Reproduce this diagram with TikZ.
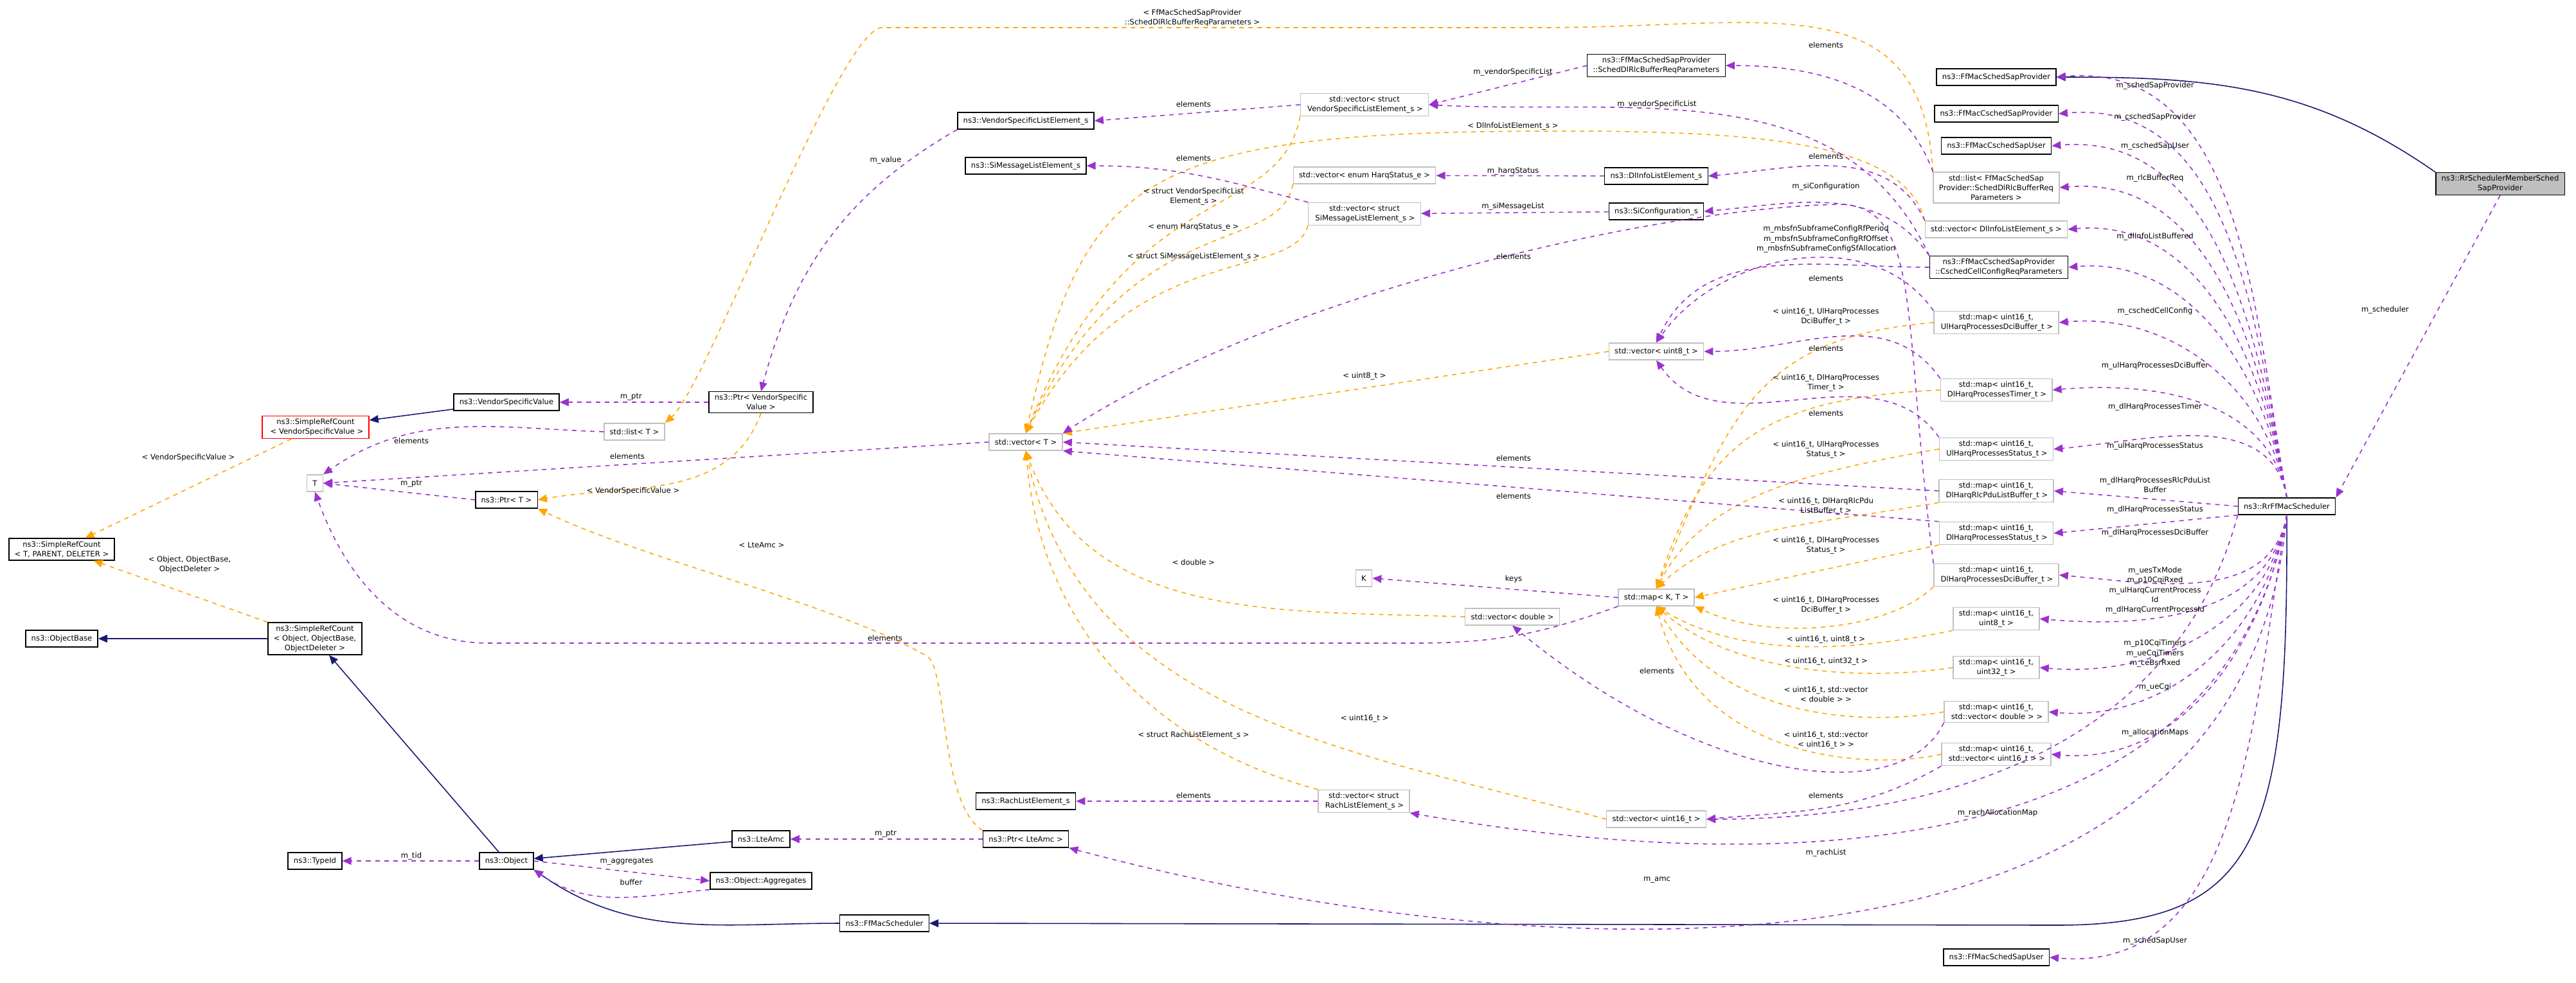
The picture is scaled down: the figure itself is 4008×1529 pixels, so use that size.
\documentclass[tikz,border=0pt]{standalone}
\usepackage{fontspec}
\setmainfont{DejaVu Sans}
\usetikzlibrary{arrows.meta}
\definecolor{inhblue}{HTML}{191970}
\definecolor{usepurple}{HTML}{9A32CD}
\definecolor{tmplorange}{HTML}{FFA500}
\definecolor{extgray}{HTML}{BFBFBF}
\begin{document}
\begin{tikzpicture}[
    x=0.01cm, y=-0.01cm,
    every node/.style={font=\fontsize{3.3}{4.3}\selectfont, align=center},
    box/.style={draw, line width=0.4pt, inner xsep=2.5pt, inner ysep=1.2pt, minimum height=0.26cm},
    cls/.style={box, draw=black},
    ext/.style={box, draw=extgray},
    hl/.style={box, draw=black, fill=extgray},
    bad/.style={box, draw=red},
    lbl/.style={inner sep=0pt},
    inh/.style={draw=inhblue, line width=0.45pt, -{Triangle[length=4pt,width=3.4pt]}},
    use/.style={draw=usepurple, line width=0.45pt, dash pattern=on 2pt off 2pt, -{Triangle[length=4pt,width=3.4pt]}},
    tmpl/.style={draw=tmplorange, line width=0.45pt, dash pattern=on 2pt off 2pt, -{Triangle[length=4pt,width=3.4pt]}}
]
\useasboundingbox (0,0) rectangle (4008,1529);

% left part
\node[bad] (srcvsv) at (491,665) {ns3::SimpleRefCount\\\,\,< VendorSpecificValue >};
\node[cls] (vsv) at (788,626) {ns3::VendorSpecificValue};
\node[ext] (stdlist) at (987,672) {std::list< T >};
\node[ext] (tT) at (490,752) {T};
\node[cls] (ptrT) at (788,778) {ns3::Ptr< T >};
\node[cls] (srcTPD) at (96,855) {ns3::SimpleRefCount\\< T, PARENT, DELETER >};
\node[cls] (objbase) at (96,994) {ns3::ObjectBase};
\node[cls] (srcobj) at (490,994) {ns3::SimpleRefCount\\< Object, ObjectBase,\\ObjectDeleter >};
\node[cls] (typeid) at (490,1340) {ns3::TypeId};
\node[cls] (object) at (788,1340) {ns3::Object};

% middle part
\node[cls] (vsle) at (1596,188) {ns3::VendorSpecificListElement\_s};
\node[cls] (simle) at (1596,258) {ns3::SiMessageListElement\_s};
\node[cls] (ptrvsv) at (1184,626) {ns3::Ptr< VendorSpecific\\Value >};
\node[ext] (vecT) at (1596,688) {std::vector< T >};
\node[cls] (lteamc) at (1184,1306) {ns3::LteAmc};
\node[cls] (ptramc) at (1596,1306) {ns3::Ptr< LteAmc >};
\node[cls] (aggr) at (1184,1371) {ns3::Object::Aggregates};
\node[cls] (ffsched) at (1376,1437) {ns3::FfMacScheduler};
\node[cls] (rachle) at (1596,1247) {ns3::RachListElement\_s};
\node[cls] (dlrlcparams) at (2577,102) {ns3::FfMacSchedSapProvider\\::SchedDlRlcBufferReqParameters};
\node[ext] (vecvsle) at (2123,163) {std::vector< struct\\\,VendorSpecificListElement\_s >};
\node[ext] (vecharq) at (2123,273) {std::vector< enum HarqStatus\_e >};
\node[ext] (vecsimle) at (2123,333) {std::vector< struct\\\,SiMessageListElement\_s >};
\node[cls] (dlinfole) at (2577,274) {ns3::DlInfoListElement\_s};
\node[cls] (siconf) at (2577,329) {ns3::SiConfiguration\_s};
\node[ext] (vecu8) at (2577,547) {std::vector< uint8\_t >};
\node[ext] (kK) at (2122,900) {K};
\node[ext] (vecdbl) at (2353,960) {std::vector< double >};
\node[ext] (mapKT) at (2577,930) {std::map< K, T >};
\node[ext] (vecrach) at (2122,1247) {std::vector< struct\\\,RachListElement\_s >};
\node[ext] (vecu16) at (2577,1275) {std::vector< uint16\_t >};

% right column
\node[cls] (sapprov) at (3106,120) {ns3::FfMacSchedSapProvider};
\node[cls] (csapprov) at (3106,177) {ns3::FfMacCschedSapProvider};
\node[cls] (csapuser) at (3106,227) {ns3::FfMacCschedSapUser};
\node[ext] (listrlc) at (3106,292) {std::list< FfMacSchedSap\\Provider::SchedDlRlcBufferReq\\Parameters >};
\node[ext] (vecdlinfo) at (3106,357) {std::vector< DlInfoListElement\_s >};
\node[cls] (cellcfg) at (3110,416) {ns3::FfMacCschedSapProvider\\::CschedCellConfigReqParameters};
\node[ext] (mUlDci) at (3106,502) {std::map< uint16\_t,\\\,UlHarqProcessesDciBuffer\_t >};
\node[ext] (mDlTimer) at (3106,607) {std::map< uint16\_t,\\\,DlHarqProcessesTimer\_t >};
\node[ext] (mUlStat) at (3106,699) {std::map< uint16\_t,\\\,UlHarqProcessesStatus\_t >};
\node[ext] (mDlRlc) at (3106,764) {std::map< uint16\_t,\\\,DlHarqRlcPduListBuffer\_t >};
\node[ext] (mDlStat) at (3106,830) {std::map< uint16\_t,\\\,DlHarqProcessesStatus\_t >};
\node[ext] (mDlDci) at (3106,895) {std::map< uint16\_t,\\\,DlHarqProcessesDciBuffer\_t >};
\node[ext] (mU8) at (3106,963) {std::map< uint16\_t,\\uint8\_t >};
\node[ext] (mU32) at (3106,1039) {std::map< uint16\_t,\\uint32\_t >};
\node[ext] (mVdbl) at (3106,1108) {std::map< uint16\_t,\\\,std::vector< double > >};
\node[ext] (mVu16) at (3106,1174) {std::map< uint16\_t,\\\,std::vector< uint16\_t > >};
\node[cls] (sapuser) at (3106,1490) {ns3::FfMacSchedSapUser};
\node[cls] (rrff) at (3558,788) {ns3::RrFfMacScheduler};
\node[hl] (rrmember) at (3890,286) {ns3::RrSchedulerMemberSched\\SapProvider};

% inheritance
\draw[inh] (vsv) -- (srcvsv);
\draw[inh] (srcobj) -- (objbase);
\draw[inh] (object) -- (srcobj);
\draw[inh] (lteamc) -- (object);
\draw[inh] (ffsched.west) to[out=180,in=-35] (object.south east);
\draw[inh] (rrff.south) .. controls (3560,1300) and (3520,1440) .. (3200,1440) -- (ffsched.east);
\draw[inh] (rrmember.north west) to[out=145,in=0] (sapprov.east);

% templates
\draw[tmpl] (srcvsv) -- (srcTPD);
\draw[tmpl] (srcobj.north west) -- (srcTPD);
\draw[tmpl] (listrlc.north west) .. controls (2990,-30) and (2750,43) .. (2400,43) -- (1370,43) .. controls (1300,60) and (1100,600) .. (stdlist.north east);
\draw[tmpl] (ptrvsv.south) to[out=-110,in=10] (ptrT.east);
\draw[tmpl] (ptramc.north west) .. controls (1460,1250) and (1475,1030) .. (1440,1020) .. controls (1300,940) and (1000,870) .. (ptrT.south east);
\draw[tmpl] (vecvsle.south west) .. controls (1990,350) and (1760,270) .. (vecT.north);
\draw[tmpl] (vecharq.south west) .. controls (1990,400) and (1760,320) .. (vecT.north);
\draw[tmpl] (vecsimle.south west) .. controls (2010,440) and (1760,370) .. (vecT.north);
\draw[tmpl] (vecdlinfo.north west) .. controls (2960,210) and (2700,200) .. (2300,205) .. controls (1760,215) and (1680,300) .. (vecT.north);
\draw[tmpl] (vecu8.west) -- (vecT.north east);
\draw[tmpl] (vecdbl.west) to[out=178,in=-70] (vecT.south);
\draw[tmpl] (vecrach.north west) to[out=165,in=-85] (vecT.south);
\draw[tmpl] (vecu16.west) to[out=165,in=-78] (vecT.south);
\draw[tmpl] (mUlDci.west) .. controls (2730,525) and (2690,650) .. (mapKT.north);
\draw[tmpl] (mDlTimer.west) .. controls (2730,620) and (2650,700) .. (mapKT.north);
\draw[tmpl] (mUlStat.west) .. controls (2780,740) and (2650,780) .. (mapKT.north);
\draw[tmpl] (mDlRlc.south west) .. controls (2800,820) and (2680,820) .. (mapKT.north);
\draw[tmpl] (mDlStat.south west) -- (mapKT.east);
\draw[tmpl] (mDlDci.south west) .. controls (2940,980) and (2760,1000) .. (mapKT.south east);
\draw[tmpl] (mU8.south west) .. controls (2900,1010) and (2720,1030) .. (mapKT.south);
\draw[tmpl] (mU32.west) .. controls (2900,1060) and (2700,1050) .. (mapKT.south);
\draw[tmpl] (mVdbl.west) .. controls (2900,1130) and (2680,1120) .. (mapKT.south);
\draw[tmpl] (mVu16.west) .. controls (2900,1200) and (2640,1180) .. (mapKT.south);

% members
\draw[use] (ptrvsv) -- (vsv);
\draw[use] (stdlist.west) to[out=178,in=35] (tT.north east);
\draw[use] (vecT.west) -- (tT.east);
\draw[use] (ptrT.west) -- (tT.east);
\draw[use] (mapKT.south west) to[out=-160,in=0] (2200,1001) -- (760,1001) to[out=180,in=-70] (tT.south);
\draw[use] (mapKT.west) -- (kK.east);
\draw[use] (object) -- (typeid);
\draw[use] (object.east) -- (aggr.west);
\draw[use] (aggr.south west) to[out=185,in=-35] (object.south east);
\draw[use] (ptramc) -- (lteamc);
\draw[use] (vsle.south west) to[out=-150,in=75] (ptrvsv.north);
\draw[use] (vecvsle.west) -- (vsle.east);
\draw[use] (vecsimle.north west) to[out=165,in=0] (simle.east);
\draw[use] (listrlc.north west) to[out=110,in=0] (dlrlcparams.east);
\draw[use] (dlrlcparams.west) -- (vecvsle.east);
\draw[use] (cellcfg.north west) to[out=115,in=-3] (vecvsle.east);
\draw[use] (dlinfole) -- (vecharq);
\draw[use] (siconf) -- (vecsimle);
\draw[use] (vecdlinfo.north west) to[out=115,in=5] (dlinfole.east);
\draw[use] (cellcfg.north west) to[out=125,in=5] (siconf.east);
\draw[use] (cellcfg.west) to[out=180,in=65] (vecu8.north);
\draw[use] (mUlDci.north west) to[out=125,in=55] (vecu8.north);
\draw[use] (mDlTimer.north west) to[out=125,in=0] (vecu8.east);
\draw[use] (mUlStat.north west) to[out=125,in=-55] (vecu8.south);
\draw[use] (mDlRlc.west) -- (vecT.east);
\draw[use] (mDlStat.north west) -- (vecT.south east);
\draw[use] (mDlDci.north west) .. controls (2960,500) and (2990,330) .. (2870,318) .. controls (2600,320) and (2000,450) .. (vecT.north east);
\draw[use] (mVdbl.south west) .. controls (2960,1260) and (2650,1220) .. (vecdbl.south);
\draw[use] (mVu16.south west) to[out=-150,in=5] (vecu16.east);
\draw[use] (vecrach.west) -- (rachle.east);
\draw[use] (rrff.south west) to[out=-105,in=0] (vecu16.east);
\draw[use] (rrff.south) to[out=-100,in=-10] (vecrach.south east);
\draw[use] (rrff.south) to[out=-95,in=-15] (ptramc.south east);
\foreach \tgt in {sapprov,csapprov,csapuser,listrlc,vecdlinfo,cellcfg,mUlDci,mDlTimer,mUlStat}
  \draw[use] (rrff.north) to[out=100,in=5] (\tgt.east);
\draw[use] (rrff.west) -- (mDlRlc.east);
\draw[use] (rrff.south west) -- (mDlStat.east);
\foreach \tgt in {mDlDci,mU8,mU32,mVdbl,mVu16,sapuser}
  \draw[use] (rrff.south) to[out=-100,in=-5] (\tgt.east);
\draw[use] (rrmember.south) -- (rrff.north east);

% labels
\node[lbl] (l1) at (293,712) {< VendorSpecificValue >};
\node[lbl] (l2) at (295,879) {< Object, ObjectBase,\\ObjectDeleter >};
\node[lbl] (l3) at (640,686) {elements};
\node[lbl] (l4) at (640,753) {m\_ptr};
\node[lbl] (l5) at (982,618) {m\_ptr};
\node[lbl] (l6) at (976,710) {elements};
\node[lbl] (l7) at (985,764) {< VendorSpecificValue >};
\node[lbl] (l8) at (640,1332) {m\_tid};
\node[lbl] (l9) at (975,1341) {m\_aggregates};
\node[lbl] (l10) at (982,1373) {buffer};
\node[lbl] (l11) at (1855,28) {< FfMacSchedSapProvider\\::SchedDlRlcBufferReqParameters >};
\node[lbl] (l12) at (1857,162) {elements};
\node[lbl] (l13) at (1378,249) {m\_value};
\node[lbl] (l14) at (1857,246) {elements};
\node[lbl] (l15) at (1857,306) {< struct VendorSpecificList\\Element\_s >};
\node[lbl] (l16) at (1857,354) {< enum HarqStatus\_e >};
\node[lbl] (l17) at (1857,399) {< struct SiMessageListElement\_s >};
\node[lbl] (l18) at (1185,848) {< LteAmc >};
\node[lbl] (l19) at (1377,993) {elements};
\node[lbl] (l20) at (1857,875) {< double >};
\node[lbl] (l21) at (1857,1144) {< struct RachListElement\_s >};
\node[lbl] (l22) at (1857,1238) {elements};
\node[lbl] (l23) at (1378,1298) {m\_ptr};
\node[lbl] (l24) at (2841,70) {elements};
\node[lbl] (l25) at (2354,112) {m\_vendorSpecificList};
\node[lbl] (l26) at (2578,162) {m\_vendorSpecificList};
\node[lbl] (l27) at (2354,196) {< DlInfoListElement\_s >};
\node[lbl] (l28) at (2841,243) {elements};
\node[lbl] (l29) at (2354,266) {m\_harqStatus};
\node[lbl] (l30) at (2841,290) {m\_siConfiguration};
\node[lbl] (l31) at (2354,321) {m\_siMessageList};
\node[lbl] (l32) at (2841,372) {m\_mbsfnSubframeConfigRfPeriod\\m\_mbsfnSubframeConfigRfOffset\\m\_mbsfnSubframeConfigSfAllocation};
\node[lbl] (l33) at (2355,399) {elements};
\node[lbl] (l34) at (2841,433) {elements};
\node[lbl] (l35) at (2841,493) {< uint16\_t, UlHarqProcesses\\DciBuffer\_t >};
\node[lbl] (l36) at (2841,542) {elements};
\node[lbl] (l37) at (2123,585) {< uint8\_t >};
\node[lbl] (l38) at (2841,596) {< uint16\_t, DlHarqProcesses\\Timer\_t >};
\node[lbl] (l39) at (2841,643) {elements};
\node[lbl] (l40) at (2841,700) {< uint16\_t, UlHarqProcesses\\Status\_t >};
\node[lbl] (l41) at (2355,713) {elements};
\node[lbl] (l42) at (2355,772) {elements};
\node[lbl] (l43) at (2841,788) {< uint16\_t, DlHarqRlcPdu\\ListBuffer\_t >};
\node[lbl] (l44) at (2841,849) {< uint16\_t, DlHarqProcesses\\Status\_t >};
\node[lbl] (l45) at (2355,901) {keys};
\node[lbl] (l46) at (2841,942) {< uint16\_t, DlHarqProcesses\\DciBuffer\_t >};
\node[lbl] (l47) at (2841,995) {< uint16\_t, uint8\_t >};
\node[lbl] (l48) at (2841,1029) {< uint16\_t, uint32\_t >};
\node[lbl] (l49) at (2578,1044) {elements};
\node[lbl] (l50) at (2841,1081) {< uint16\_t, std::vector\\< double > >};
\node[lbl] (l51) at (2841,1152) {< uint16\_t, std::vector\\< uint16\_t > >};
\node[lbl] (l52) at (2123,1118) {< uint16\_t >};
\node[lbl] (l53) at (2841,1238) {elements};
\node[lbl] (l54) at (2841,1327) {m\_rachList};
\node[lbl] (l55) at (2578,1370) {m\_amc};
\node[lbl] (l56) at (3353,133) {m\_schedSapProvider};
\node[lbl] (l57) at (3353,182) {m\_cschedSapProvider};
\node[lbl] (l58) at (3353,227) {m\_cschedSapUser};
\node[lbl] (l59) at (3353,277) {m\_rlcBufferReq};
\node[lbl] (l60) at (3353,368) {m\_dlInfoListBuffered};
\node[lbl] (l61) at (3353,484) {m\_cschedCellConfig};
\node[lbl] (l62) at (3353,569) {m\_ulHarqProcessesDciBuffer};
\node[lbl] (l63) at (3353,633) {m\_dlHarqProcessesTimer};
\node[lbl] (l64) at (3353,694) {m\_ulHarqProcessesStatus};
\node[lbl] (l65) at (3711,482) {m\_scheduler};
\node[lbl] (l66) at (3353,755) {m\_dlHarqProcessesRlcPduList\\Buffer};
\node[lbl] (l67) at (3353,793) {m\_dlHarqProcessesStatus};
\node[lbl] (l68) at (3353,829) {m\_dlHarqProcessesDciBuffer};
\node[lbl] (l69) at (3353,919) {m\_uesTxMode\\m\_p10CqiRxed\\m\_ulHarqCurrentProcess\\Id\\m\_dlHarqCurrentProcessId};
\node[lbl] (l70) at (3353,1017) {m\_p10CqiTimers\\m\_ueCqiTimers\\m\_ceBsrRxed};
\node[lbl] (l71) at (3353,1069) {m\_ueCqi};
\node[lbl] (l72) at (3353,1140) {m\_allocationMaps};
\node[lbl] (l73) at (3108,1265) {m\_rachAllocationMap};
\node[lbl] (l74) at (3353,1464) {m\_schedSapUser};
\end{tikzpicture}
\end{document}
